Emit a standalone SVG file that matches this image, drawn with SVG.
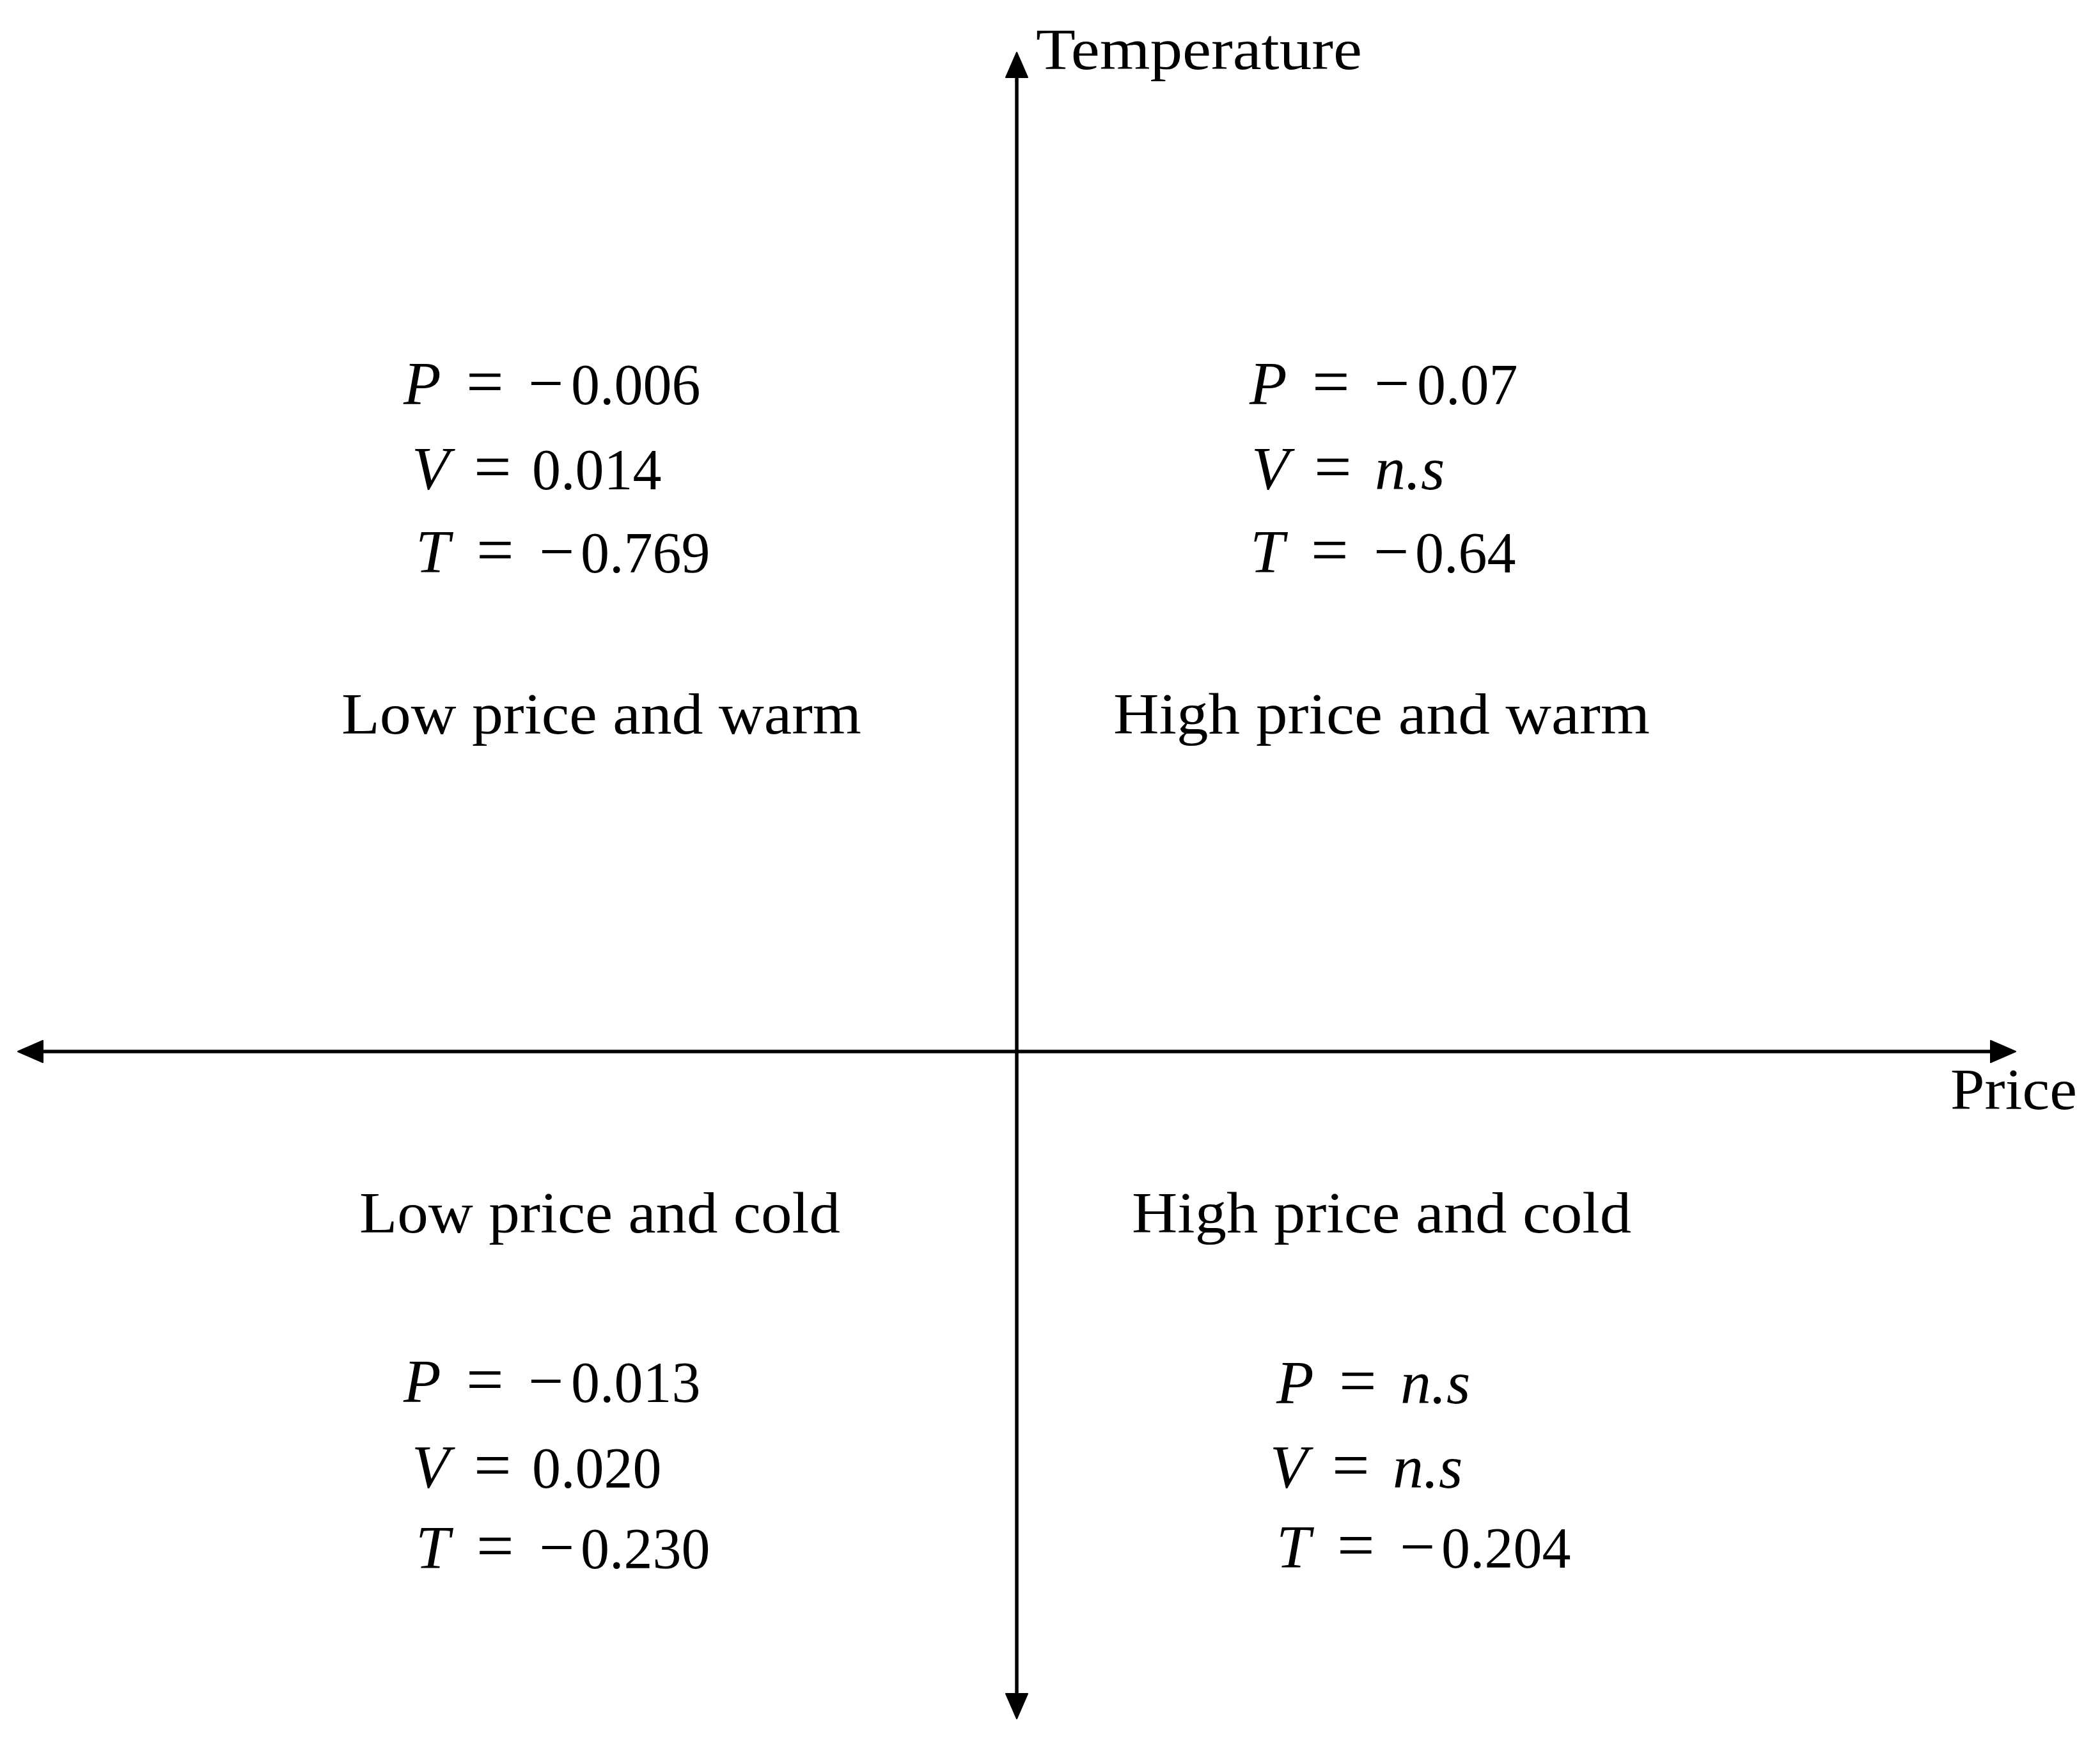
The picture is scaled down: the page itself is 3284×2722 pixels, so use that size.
<svg xmlns="http://www.w3.org/2000/svg" width="3284" height="2722" viewBox="0 0 3284 2722">
  <style>
    .t { font-family: "Liberation Serif", "Times New Roman", serif; font-size: 90px; fill: #000; }
    .i { font-style: italic; font-size: 96px; }
    .eq { font-size: 104px; }
    .mi { font-size: 98px; }
    .axis { stroke: #000; stroke-width: 5.5; fill: none; }
  </style>
  <defs>
    <marker id="arrow" markerUnits="userSpaceOnUse" markerWidth="44" markerHeight="40" viewBox="-2 -20 44 40" refX="0" refY="0" orient="auto-start-reverse">
      <path d="M0,-17 L39,0 L0,17 Z" fill="#000" stroke="#000" stroke-width="2" stroke-linejoin="round"/>
    </marker>
  </defs>
  <rect width="3284" height="2722" fill="#fff"/>

  <g id="connectors">
    <line class="axis" x1="67" y1="1644" x2="3113" y2="1644" marker-start="url(#arrow)" marker-end="url(#arrow)"/>
    <line class="axis" x1="1590" y1="2648" x2="1590" y2="121" marker-start="url(#arrow)" marker-end="url(#arrow)"/>
  </g>

  <g id="axis-labels">
    <text class="t" x="1620" y="108" textLength="510" lengthAdjust="spacingAndGlyphs">Temperature</text>
    <text class="t" x="3050" y="1734" textLength="198" lengthAdjust="spacingAndGlyphs">Price</text>
  </g>

  <g id="q-low-warm">
    <text class="t" y="632"><tspan class="i" x="631">P</tspan><tspan class="eq" x="729">=</tspan><tspan class="mi" x="826">−</tspan><tspan x="893">0.006</tspan></text>
    <text class="t" y="765"><tspan class="i" x="644">V</tspan><tspan class="eq" x="741">=</tspan><tspan x="832">0.014</tspan></text>
    <text class="t" y="895"><tspan class="i" x="650">T</tspan><tspan class="eq" x="745">=</tspan><tspan class="mi" x="843">−</tspan><tspan x="908">0.769</tspan></text>
    <text class="t" x="534" y="1147" textLength="813" lengthAdjust="spacingAndGlyphs">Low price and warm</text>
  </g>

  <g id="q-high-warm">
    <text class="t" y="632"><tspan class="i" x="1954">P</tspan><tspan class="eq" x="2052">=</tspan><tspan class="mi" x="2149">−</tspan><tspan x="2216">0.07</tspan></text>
    <text class="t" y="765"><tspan class="i" x="1957">V</tspan><tspan class="eq" x="2055">=</tspan><tspan class="i" x="2150">n.s</tspan></text>
    <text class="t" y="895"><tspan class="i" x="1955">T</tspan><tspan class="eq" x="2050">=</tspan><tspan class="mi" x="2148">−</tspan><tspan x="2213">0.64</tspan></text>
    <text class="t" x="1741" y="1147" textLength="839" lengthAdjust="spacingAndGlyphs">High price and warm</text>
  </g>

  <g id="q-low-cold">
    <text class="t" x="562" y="1927" textLength="752" lengthAdjust="spacingAndGlyphs">Low price and cold</text>
    <text class="t" y="2192"><tspan class="i" x="631">P</tspan><tspan class="eq" x="729">=</tspan><tspan class="mi" x="826">−</tspan><tspan x="893">0.013</tspan></text>
    <text class="t" y="2326"><tspan class="i" x="644">V</tspan><tspan class="eq" x="741">=</tspan><tspan x="832">0.020</tspan></text>
    <text class="t" y="2452"><tspan class="i" x="650">T</tspan><tspan class="eq" x="745">=</tspan><tspan class="mi" x="843">−</tspan><tspan x="908">0.230</tspan></text>
  </g>

  <g id="q-high-cold">
    <text class="t" x="1770" y="1927" textLength="781" lengthAdjust="spacingAndGlyphs">High price and cold</text>
    <text class="t" y="2194"><tspan class="i" x="1996">P</tspan><tspan class="eq" x="2094">=</tspan><tspan class="i" x="2190">n.s</tspan></text>
    <text class="t" y="2326"><tspan class="i" x="1986">V</tspan><tspan class="eq" x="2083">=</tspan><tspan class="i" x="2178">n.s</tspan></text>
    <text class="t" y="2451"><tspan class="i" x="1996">T</tspan><tspan class="eq" x="2091">=</tspan><tspan class="mi" x="2189">−</tspan><tspan x="2254">0.204</tspan></text>
  </g>
</svg>
